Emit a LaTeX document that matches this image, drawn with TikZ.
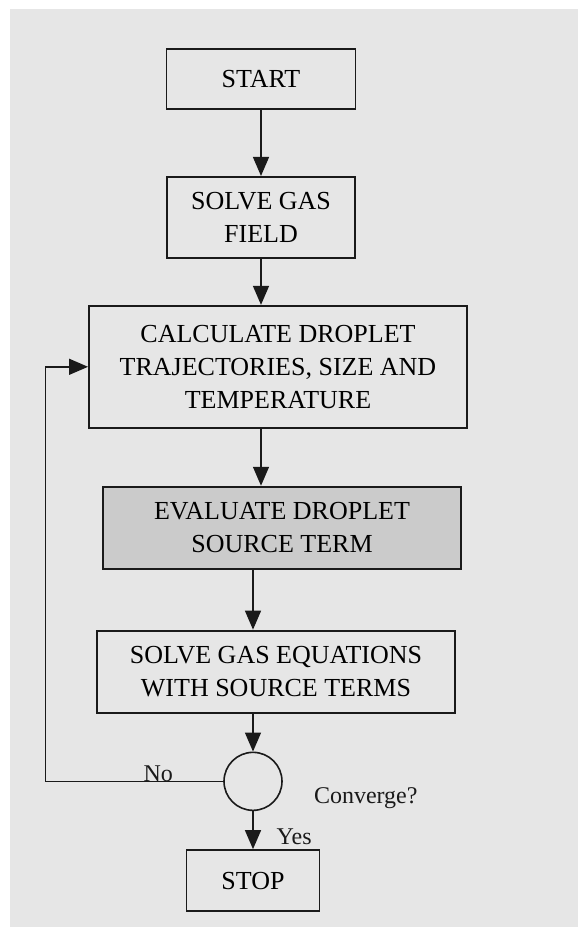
\documentclass[tikz,border=0pt]{standalone}
\usepackage{fontspec}
\setmainfont{Liberation Serif}
\usetikzlibrary{shapes.geometric, arrows.meta, positioning}
\definecolor{paper}{HTML}{E6E6E6}
\definecolor{shade}{HTML}{CBCBCB}
\definecolor{ink}{HTML}{1A1A1A}
\tikzset{
  box/.style={
    rectangle, minimum height=60pt, inner sep=0pt,
    text centered, align=center, draw=ink, line width=1.9pt,
    font=\fontsize{26}{33}\selectfont,
  },
  shadebox/.style={box, fill=shade},
  decision/.style={
    circle, minimum size=58pt, inner sep=0pt,
    draw=ink, line width=1.6pt,
  },
  arrow/.style={-{Triangle[length=19pt,width=16pt]}, line width=1.4pt, color=ink},
  lbl/.style={font=\fontsize{24}{29}\selectfont, text=ink, inner sep=0pt},
}

\begin{document}
\begin{tikzpicture}[x=1pt, y=-1pt]

  % Page
  \fill[white] (0,0) rectangle (578,927);
  \fill[paper] (10,9) rectangle (578,927);
  \useasboundingbox (0,0) rectangle (578,927);

  % Steps
  \node[box, minimum width=189pt] (start) at (261,79) {START};
  \node[box, minimum width=188pt, minimum height=81pt, below=66pt of start] (field) {SOLVE GAS\\FIELD};
  \node[box, minimum width=378pt, minimum height=122pt, below=46pt of field, xshift=17pt] (droplet) {CALCULATE DROPLET\\TRAJECTORIES, SIZE AND\\TEMPERATURE};
  \node[shadebox, minimum width=358pt, minimum height=82pt, below=57pt of droplet, xshift=4pt] (source) {EVALUATE DROPLET\\SOURCE TERM};
  \node[box, minimum width=358pt, minimum height=82pt, below=60pt of source, xshift=-6pt] (gaseqn) {SOLVE GAS EQUATIONS\\WITH SOURCE TERMS};

  % Test
  \node[decision, below=38pt of gaseqn, xshift=-23pt] (conv) {};
  \node[lbl, right=31pt of conv, yshift=-17pt] (convq) {Converge?};

  % End
  \node[box, minimum width=133pt, minimum height=61pt, below=38pt of conv] (stop) {STOP};

  % Arrows
  \draw[arrow] (start) -- (field);
  \draw[arrow] (field.south) -- (field.south |- droplet.north);
  \draw[arrow] (droplet.south -| field) -- (source.north -| field);
  \draw[arrow] (source.south -| conv) -- (gaseqn.north -| conv);
  \draw[arrow] (gaseqn.south -| conv) -- (conv);
  \draw[arrow] (conv) -- node[lbl, pos=0.67, right=23pt] {Yes} (stop);
  \draw[arrow] (conv.west) -- node[lbl, pos=0.365, anchor=base] {No} ++(-178,0) |- (droplet.west);

\end{tikzpicture}
\end{document}
